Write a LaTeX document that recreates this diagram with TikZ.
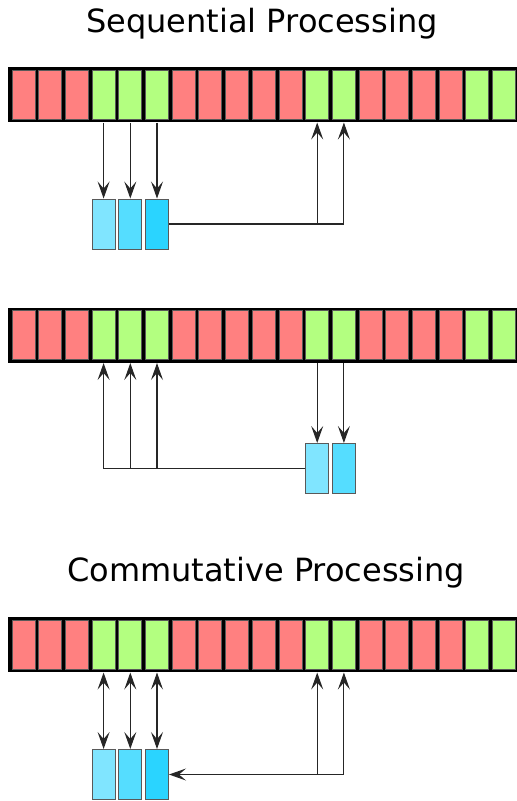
\documentclass[tikz,border=0pt]{standalone}
\usepackage{fontspec}
\setmainfont{DejaVu Sans}
\usetikzlibrary{arrows.meta}
\definecolor{slotred}{HTML}{FF8080}
\definecolor{slotgreen}{HTML}{B3FF80}
\definecolor{bufA}{HTML}{80E5FF}
\definecolor{bufB}{HTML}{55DDFF}
\definecolor{bufC}{HTML}{2AD4FF}

\begin{document}
\begin{tikzpicture}[
    x=1pt, y=-1pt,
    >={Stealth[length=17pt, width=12pt, inset=7pt]},
    slot/.style={draw=black!65, line width=1pt, minimum width=23pt,
      minimum height=49pt, inner sep=0pt},
    buf/.style={draw=black!65, line width=1pt, minimum width=23pt,
      minimum height=50pt, inner sep=0pt},
    wire/.style={draw=black!85, line width=1.1pt},
    title/.style={anchor=base, font=\fontsize{32}{38}\selectfont},
  ]
  \useasboundingbox (0,0) rectangle (517,801);
  \node[title] (seq) at (262,32) {Sequential Processing};
  \node[title] (comm) at (266,581) {Commutative Processing};
  % memory rows
  \foreach \r/\y in {a/94.5, b/335, c/644.5} {
    \fill (8,\y-27.5) rectangle (520,\y+27.5);
    \foreach \col [count=\i from 0] in {red,red,red,green,green,green,red,red,red,red,red,green,green,red,red,red,red,green,green}
      \node[slot, fill=slot\col] (\r\i) at (23.5+26.7*\i,\y) {};
  }
  % sequential, load
  \node[buf, fill=bufA] (p1) at (a3 |- 0,224) {};
  \node[buf, fill=bufB] (p2) at (a4 |- 0,224) {};
  \node[buf, fill=bufC] (p3) at (a5 |- 0,224) {};
  \foreach \i/\j in {3/1,4/2,5/3}
    \draw[wire, ->, shorten <=3pt] (a\i.south) -- (p\j.north);
  \draw[wire] (p3.east) -- (p3.east -| a12);
  \foreach \i in {11,12}
    \draw[wire, ->, shorten >=3pt] (p3.east -| a\i) -- (a\i.south);
  % sequential, store
  \node[buf, fill=bufA] (q1) at (b11 |- 0,468.5) {};
  \node[buf, fill=bufB] (q2) at (b12 |- 0,468.5) {};
  \foreach \i/\j in {11/1,12/2}
    \draw[wire, ->, shorten <=3pt] (b\i.south) -- (q\j.north);
  \draw[wire] (q1.west) -- (q1.west -| b3);
  \foreach \i in {3,4,5}
    \draw[wire, ->, shorten >=3pt] (q1.west -| b\i) -- (b\i.south);
  % commutative
  \node[buf, fill=bufA] (s1) at (c3 |- 0,774.5) {};
  \node[buf, fill=bufB] (s2) at (c4 |- 0,774.5) {};
  \node[buf, fill=bufC] (s3) at (c5 |- 0,774.5) {};
  \foreach \i/\j in {3/1,4/2,5/3}
    \draw[wire, <->, shorten <=3pt] (c\i.south) -- (s\j.north);
  \draw[wire, ->] (s3.east -| c12) -- (s3.east);
  \foreach \i in {11,12}
    \draw[wire, ->, shorten >=3pt] (s3.east -| c\i) -- (c\i.south);
\end{tikzpicture}
\end{document}
